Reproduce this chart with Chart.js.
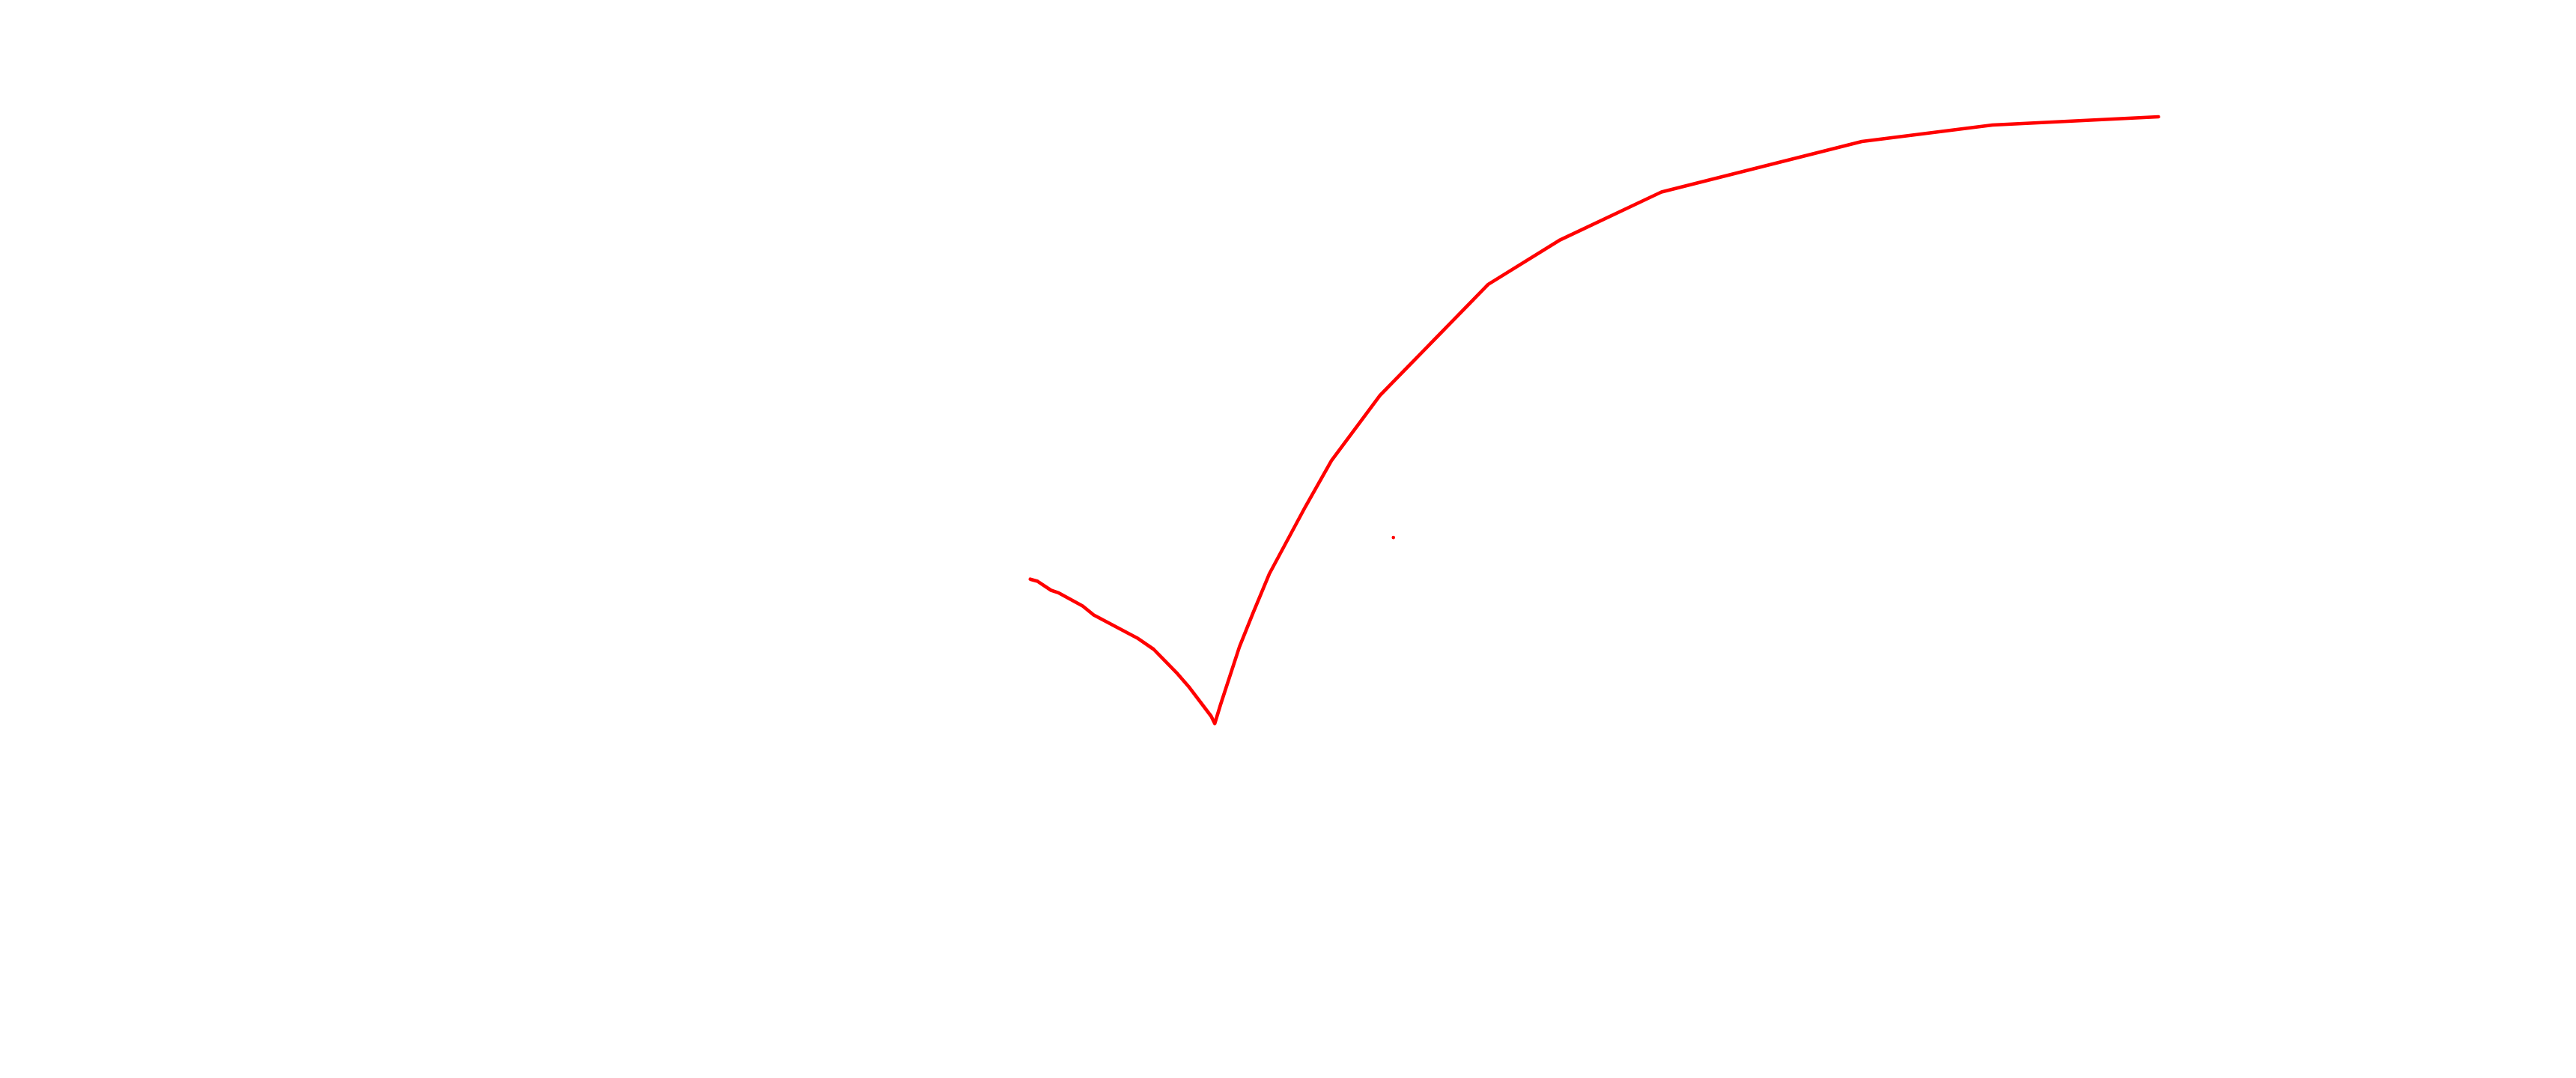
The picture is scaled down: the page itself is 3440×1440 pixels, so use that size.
<!DOCTYPE html>
<html>
<head>
<meta charset="utf-8">
<title>Curve</title>
<script src="https://cdn.jsdelivr.net/npm/chart.js@4/dist/chart.umd.min.js"></script>
<style>
 html, body { margin: 0; padding: 0; background: #fff; }
 #wrap { width: 3440px; height: 1440px; position: relative; }
</style>
</head>
<body>
<div id="wrap"><canvas id="curveChart"></canvas></div>
<script>
// curve values (x, y)
const xValues = [
 39.97, 40.26, 40.78, 41.05, 42.01, 42.44, 44.13, 44.77, 45.70, 46.13,
 47.01, 47.15, 47.38, 48.11, 48.63, 49.27, 50.67, 51.69, 53.58, 57.79,
 60.55, 64.53, 72.33, 77.41, 83.87
];
const yValues = [
 27.75, 27.63, 27.13, 27.00, 26.25, 25.75, 24.46, 23.83, 22.46, 21.75,
 20.08, 19.67, 20.75, 23.96, 25.83, 28.04, 31.79, 34.38, 38.04, 44.25,
 46.71, 49.42, 52.25, 53.17, 53.63
];

// the lone point off the curve
const dotX = [54.10];
const dotY = [30.08];

// axis ranges (axes themselves are hidden)
const xRange = [0, 100];
const yRange = [0, 60];

const curvePoints = xValues.map((x, i) => ({ x, y: yValues[i] }));
const dotPoints = dotX.map((x, i) => ({ x, y: dotY[i] }));

const ctx = document.getElementById("curveChart").getContext("2d");

new Chart(ctx, {
 type: "scatter",
 data: {
 datasets: [
 {
 data: curvePoints,
 showLine: true,
 borderColor: "#ff0000",
 borderWidth: 4.6,
 borderCapStyle: "round",
 borderJoinStyle: "round",
 pointRadius: 0,
 pointHoverRadius: 0,
 tension: 0
 },
 {
 data: dotPoints,
 showLine: false,
 pointRadius: 2.3,
 pointBorderWidth: 0,
 pointBackgroundColor: "#ff0000",
 pointBorderColor: "#ff0000"
 }
 ]
 },
 options: {
 responsive: true,
 maintainAspectRatio: false,
 animation: false,
 layout: { padding: 0 },
 plugins: {
 legend: { display: false },
 tooltip: { enabled: false }
 },
 scales: {
 x: { type: "linear", display: false, min: xRange[0], max: xRange[1] },
 y: { type: "linear", display: false, min: yRange[0], max: yRange[1] }
 }
 }
});
</script>
</body>
</html>
